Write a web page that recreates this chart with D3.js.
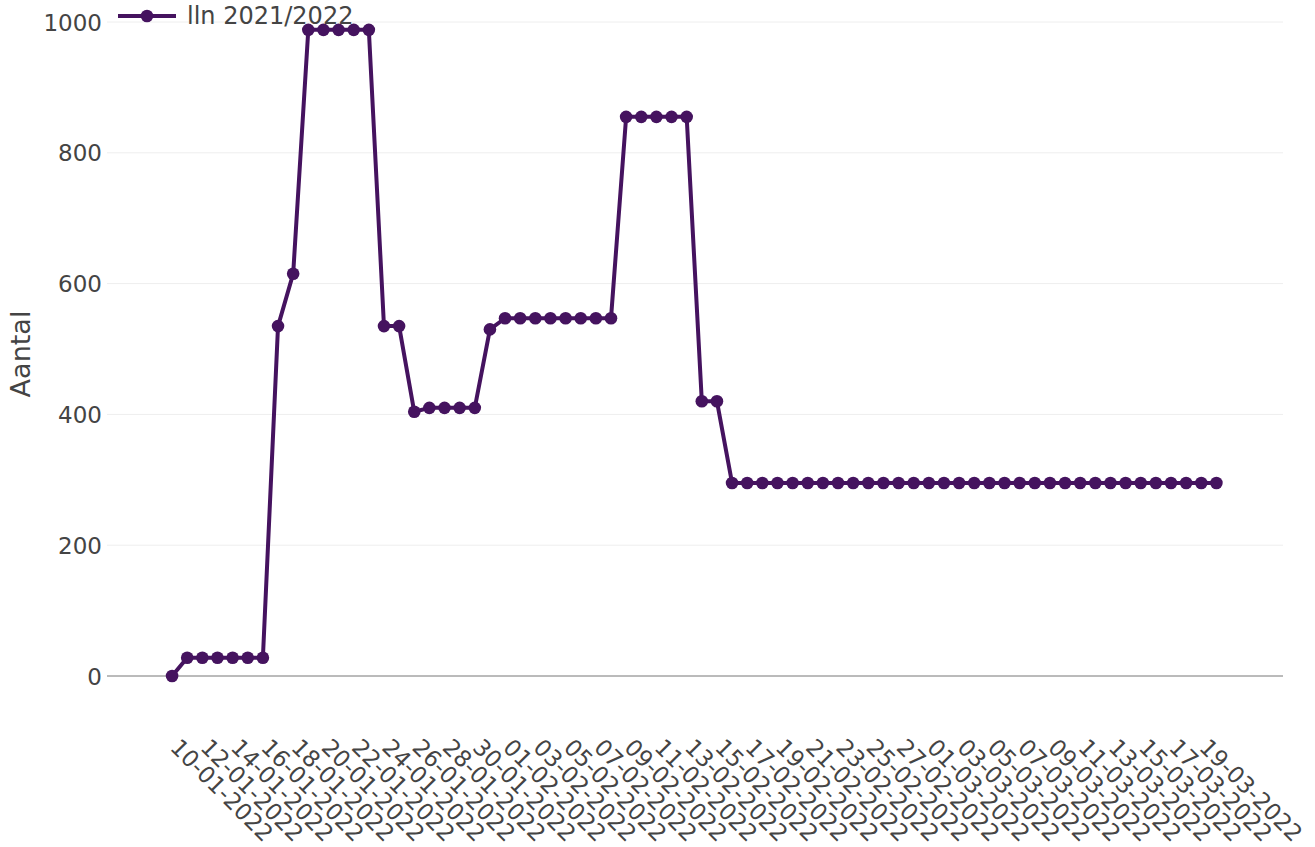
<!DOCTYPE html>
<html>
<head>
<meta charset="utf-8">
<script src="https://cdn.jsdelivr.net/npm/d3@7"></script>
<style>
  html, body { margin: 0; padding: 0; background: #fff; }
  svg { display: block; font-family: "DejaVu Sans", sans-serif; }
</style>
</head>
<body>
<svg id="chart" width="1315" height="847"></svg>
<script>
// ---- data ----
const startDate = "10-01-2022";
const endDate = "20-03-2022";
const seriesName = "lln 2021/2022";
const yTicks = [0, 200, 400, 600, 800, 1000];
const yTitle = "Aantal";
// values per day from 10-01-2022 to 20-03-2022
const values = [
  0,
  28, 28, 28, 28, 28, 28,
  535, 615,
  988, 988, 988, 988, 988,
  535, 535,
  404, 410, 410, 410, 410,
  530,
  547, 547, 547, 547, 547, 547, 547, 547,
  855, 855, 855, 855, 855,
  420, 420,
  295, 295, 295, 295, 295, 295, 295, 295, 295, 295,
  295, 295, 295, 295, 295, 295, 295, 295, 295, 295,
  295, 295, 295, 295, 295, 295, 295, 295, 295, 295,
  295, 295, 295
];

const parse = d3.timeParse("%d-%m-%Y");
const fmt = d3.timeFormat("%d-%m-%Y");
const t0 = parse(startDate);
const data = values.map((v, i) => ({ date: d3.timeDay.offset(t0, i), value: v }));
const tickDates = data.filter((d, i) => i % 2 === 0).map(d => d.date);

// ---- layout ----
const svg = d3.select("#chart");
const mLeft = 107, mRight = 1283, mTop = 22, mBottom = 676;
const DAY = 864e5;
const x = d3.scaleTime()
  .domain([new Date(+t0 - 4.3 * DAY), new Date(+parse(endDate) + 4.4 * DAY)])
  .range([mLeft, mRight]);
const y = d3.scaleLinear().domain([0, 1000]).range([mBottom, mTop]);
const color = "#45135f";

// gridlines
svg.append("g").selectAll("line").data(yTicks.filter(t => t !== 0)).join("line")
  .attr("x1", mLeft).attr("x2", mRight)
  .attr("y1", d => y(d)).attr("y2", d => y(d))
  .attr("stroke", "#eeeeee").attr("stroke-width", 1);
// zero line
svg.append("line").attr("x1", mLeft).attr("x2", mRight)
  .attr("y1", y(0)).attr("y2", y(0))
  .attr("stroke", "#777").attr("stroke-width", 1);

// y axis labels
const yAxis = d3.axisLeft(y).tickValues(yTicks).tickFormat(d3.format("d")).tickSize(0).tickPadding(5);
const gy = svg.append("g").attr("transform", `translate(${mLeft},0)`).call(yAxis);
gy.select(".domain").remove();
gy.selectAll("text").attr("font-size", 23).attr("fill", "#444")
  .attr("font-family", "DejaVu Sans, sans-serif").attr("dy", "0.35em");

// x axis labels
const xAxis = d3.axisBottom(x).tickValues(tickDates).tickFormat(fmt).tickSize(0);
const gx = svg.append("g").attr("transform", `translate(0,${mBottom})`).call(xAxis);
gx.select(".domain").remove();
gx.selectAll("text")
  .attr("font-size", 23).attr("fill", "#444")
  .attr("font-family", "DejaVu Sans, sans-serif")
  .attr("text-anchor", "start")
  .attr("dy", "0.35em")
  .attr("y", 0)
  .attr("transform", "translate(2,67) rotate(45)");

// y title
svg.append("text")
  .attr("transform", `translate(30,354) rotate(-90)`)
  .attr("text-anchor", "middle")
  .attr("font-size", 27).attr("fill", "#444")
  .text(yTitle);

// line
const line = d3.line().x(d => x(d.date)).y(d => y(d.value));
svg.append("path").datum(data)
  .attr("d", line).attr("fill", "none")
  .attr("stroke", color).attr("stroke-width", 4).attr("stroke-linejoin", "round");
svg.append("g").selectAll("circle").data(data).join("circle")
  .attr("cx", d => x(d.date)).attr("cy", d => y(d.value))
  .attr("r", 6.3).attr("fill", color);

// legend
const lg = svg.append("g");
lg.append("line").attr("x1", 118).attr("x2", 176).attr("y1", 16).attr("y2", 16)
  .attr("stroke", color).attr("stroke-width", 4);
lg.append("circle").attr("cx", 147).attr("cy", 16).attr("r", 6.3).attr("fill", color);
lg.append("text").attr("x", 187).attr("y", 16).attr("dy", "0.35em")
  .attr("font-size", 24).attr("fill", "#444").text(seriesName);
</script>
</body>
</html>
